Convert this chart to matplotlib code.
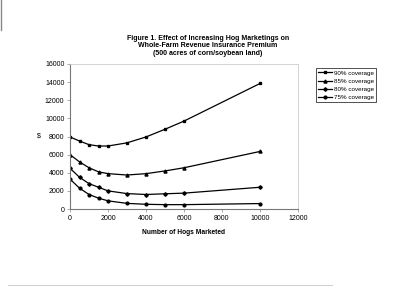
import matplotlib
matplotlib.use("Agg")
import matplotlib.pyplot as plt
from matplotlib.lines import Line2D

plt.rcParams['font.family'] = ['Liberation Sans', 'DejaVu Sans']

hogs = [0, 500, 1000, 1500, 2000, 3000, 4000, 5000, 6000, 10000]
cov90 = [7950, 7500, 7100, 6950, 6950, 7300, 7950, 8800, 9700, 13850]
cov85 = [6000, 5200, 4550, 4100, 3900, 3750, 3900, 4200, 4550, 6350]
cov80 = [4500, 3500, 2800, 2400, 2000, 1700, 1600, 1680, 1750, 2400]
cov75 = [3300, 2300, 1600, 1200, 900, 620, 520, 480, 480, 600]
labels = ["90% coverage", "85% coverage", "80% coverage", "75% coverage"]
xticks = [0, 2000, 4000, 6000, 8000, 10000, 12000]
yticks = [0, 2000, 4000, 6000, 8000, 10000, 12000, 14000, 16000]

fig = plt.figure(figsize=(4.0, 3.06), dpi=100)
ax = fig.add_axes([70/400, 1-209/306, (298-70)/400, (209-64)/306])

series = [cov90, cov85, cov80, cov75]
markers = ["s", "^", "D", "o"]
sizes = [1.8, 2.2, 1.8, 2.0]
for ys, m, ms, lab in zip(series, markers, sizes, labels):
    ax.plot(hogs, ys, color="black", lw=0.9, marker=m, ms=ms, label=lab)

ax.set_xlim(0, 12000)
ax.set_ylim(0, 16000)
ax.set_xticks(xticks)
ax.set_yticks(yticks)
ax.tick_params(labelsize=5, length=2, width=0.5, color="#888888", pad=2)
for s in ["left", "bottom"]:
    ax.spines[s].set_color("#777777")
    ax.spines[s].set_linewidth(0.8)
for s in ["top", "right"]:
    ax.spines[s].set_color("#cccccc")
    ax.spines[s].set_linewidth(0.6)
    ax.spines[s].set_linestyle((0, (3, 1)))

ax.set_xlabel("Number of Hogs Marketed", fontsize=4.8, fontweight="bold", labelpad=5)
fig.text(39/400, 1-136/306, "$", fontsize=5, ha="center", va="center")

for yy, t in [(38, "Figure 1. Effect of Increasing Hog Marketings on"),
              (45.7, "Whole-Farm Revenue Insurance Premium"),
              (53.3, "(500 acres of corn/soybean land)")]:
    fig.text(208/400, 1-yy/306, t, fontsize=5.0, fontweight="bold",
             ha="center", va="center")

leg = fig.legend(loc="upper left", bbox_to_anchor=(316/400, 1-68/306),
                 fontsize=4.5, frameon=True, fancybox=False, edgecolor="black",
                 handlelength=2.2, handletextpad=0.3, borderpad=0.35,
                 labelspacing=0.45, borderaxespad=0)
leg.get_frame().set_linewidth(0.6)

# scan artifacts
fig.add_artist(Line2D([8/400, 332/400], [1-285/306, 1-285/306],
                      color="#f2c9a8", lw=0.8, transform=fig.transFigure))
fig.add_artist(Line2D([0.5/400, 0.5/400], [1-30/306, 1.0],
                      color="#888888", lw=1.0, transform=fig.transFigure))

fig.savefig("out.png", dpi=100)
